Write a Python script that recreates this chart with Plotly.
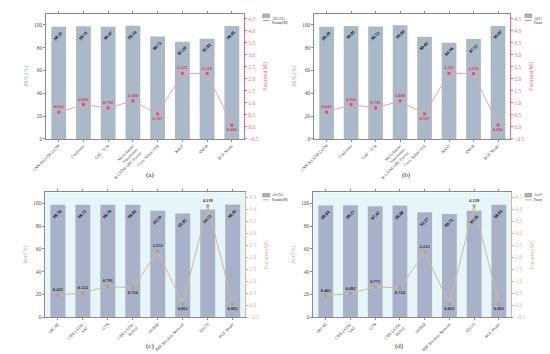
import plotly.graph_objects as go

# ---------------- data ----------------
cats_ab = ["CNN-BiLSTM-LSTM", "Conformer", "GAT - TCN",
           "Multichannel<br>Transformer<br>& LSTM-GRU Fusion",
           "Cross-Subject DA", "KAST", "SMGB", "RGF-Model"]
auc_a = [98.32, 98.71, 98.47, 99.24, 89.72, 85.26, 87.81, 99.05]
params_a = [0.612, 0.926, 0.792, 1.080, 0.537, 2.225, 2.219, 0.082]
auc_b = [98.28, 99.05, 98.52, 99.64, 89.62, 84.36, 87.52, 99.07]
params_b = [0.612, 0.926, 0.792, 1.080, 0.537, 2.225, 2.219, 0.082]

cats_cd = ["SRCAE", "CNN-LSTM-<br>SAT", "GTN", "CNN-LSTM-<br>Hybrid",
           "SDNSB", "RBF-Residual-Network", "EEGTI", "RGF-Model"]
acc_c = [98.76, 98.72, 98.79, 98.81, 93.59, 91.05, 94.52, 98.95]
params_c = [0.425, 0.522, 0.791, 0.724, 2.252, 0.062, 4.139, 0.062]
acc_d = [98.04, 98.27, 97.42, 98.06, 92.17, 90.71, 93.58, 98.83]
params_d = [0.405, 0.492, 0.771, 0.724, 2.212, 0.062, 4.139, 0.062]

pos_ab = ["top center"] * 4 + ["bottom center", "top center", "top center", "bottom center"]
pos_cd = ["top center", "top center", "top center", "bottom center",
          "top center", "bottom center", "top center", "bottom center"]

W, H = 550, 354
FONT = "Liberation Serif"

styleA = dict(bar="#a9b9c8", line="#f6a0ae", marker="#e8506a", ptext="#e0304e",
              raxis="#ee6a80", ltitle="#8ea2b4", bg=None)
styleC = dict(bar="#a9b1c9", line="#cbbd96", marker="#b8a070", ptext="#2a2a2a",
              raxis="#deb09a", ltitle="#a6adbf", bg="#e6f5f7")

panels = [
    dict(cats=cats_ab, bars=auc_a, params=params_a, bname="AUC(%)", st=styleA,
         dx=(25, 228), dy=(6, 132), lab="(a)", labxy=(125, 168), legxy=(247, 5), pos=pos_ab),
    dict(cats=cats_ab, bars=auc_b, params=params_b, bname="AUC(%)", st=styleA,
         dx=(300, 501), dy=(6, 132), lab="(b)", labxy=(401, 168), legxy=(516, 5), pos=pos_ab),
    dict(cats=cats_cd, bars=acc_c, params=params_c, bname="Acc(%)", st=styleC,
         dx=(24, 229), dy=(186, 312), lab="(c)", labxy=(125, 347), legxy=(247, 186), pos=pos_cd),
    dict(cats=cats_cd, bars=acc_d, params=params_d, bname="Acc(%)", st=styleC,
         dx=(299, 502), dy=(186, 312), lab="(d)", labxy=(394, 347), legxy=(516, 186), pos=pos_cd),
]

fig = go.Figure()
layout = {}
shapes = []
annotations = []

for i, p in enumerate(panels):
    k = i + 1
    st = p["st"]
    xa = "x" if k == 1 else f"x{k}"
    xkey = "xaxis" if k == 1 else f"xaxis{k}"
    yl, yr = 2 * k - 1, 2 * k
    ylname = "y" if yl == 1 else f"y{yl}"
    ylkey = "yaxis" if yl == 1 else f"yaxis{yl}"
    yrname = f"y{yr}"
    yrkey = f"yaxis{yr}"

    fig.add_trace(go.Bar(
        x=p["cats"], y=p["bars"], xaxis=xa, yaxis=ylname, name=p["bname"],
        marker=dict(color=st["bar"], line=dict(width=0)), width=0.6,
        showlegend=False))
    # rotated value labels inside the top of each bar
    for c, v in zip(p["cats"], p["bars"]):
        annotations.append(dict(text=f"<b>{v:.2f}</b>", x=c, y=v, xref=xa, yref=ylname,
                                yshift=-9, showarrow=False, textangle=-45,
                                font=dict(size=4.5, family=FONT, color="black")))
    fig.add_trace(go.Scatter(
        x=p["cats"], y=p["params"], xaxis=xa, yaxis=yrname, name="Params(M)",
        mode="lines+markers+text",
        line=dict(color=st["line"], width=1),
        marker=dict(color=st["marker"], size=3, symbol="square"),
        text=[f"{v:.3f}" for v in p["params"]], textposition=p["pos"],
        textfont=dict(size=4.5, color=st["ptext"], family=FONT, weight="bold"),
        showlegend=False, cliponaxis=False))

    x0, x1 = p["dx"][0] / W, p["dx"][1] / W
    y0, y1 = 1 - p["dy"][1] / H, 1 - p["dy"][0] / H
    layout[xkey] = dict(
        domain=[x0, x1], anchor=ylname, range=[-0.5, 7.5], type="category",
        showline=True, linecolor="#8a8a8a", linewidth=1, mirror="ticks",
        ticks="outside", ticklen=2, tickcolor="#8a8a8a", tickangle=-45,
        tickfont=dict(size=4, family=FONT, color="#333"), showgrid=False)
    layout[ylkey] = dict(
        domain=[y0, y1], anchor=xa, range=[0, 109.6],
        tickvals=[0, 20, 40, 60, 80, 100],
        showline=True, linecolor="#8a8a8a", linewidth=1,
        ticks="outside", ticklen=2, tickcolor="#8a8a8a",
        tickfont=dict(size=5.5, family=FONT, color="#555"), showgrid=False,
        zeroline=False,
        title=dict(text=p["bname"], font=dict(size=6, family=FONT, color=st["ltitle"]),
                   standoff=4))
    layout[yrkey] = dict(
        overlaying=ylname, side="right", anchor=xa, range=[-0.5, 4.7],
        tickvals=[-0.5, 0, 0.5, 1, 1.5, 2, 2.5, 3, 3.5, 4, 4.5],
        tickformat=".1f",
        showline=True, linecolor=st["raxis"], linewidth=1,
        ticks="outside", ticklen=2, tickcolor=st["raxis"],
        tickfont=dict(size=5.5, family=FONT, color=st["raxis"]), showgrid=False,
        zeroline=False,
        title=dict(text="Params(M)", font=dict(size=6.5, family=FONT, color=st["raxis"]),
                   standoff=4))

    if st["bg"]:
        shapes.append(dict(type="rect", xref=f"{xa} domain", yref=f"{ylname} domain",
                           x0=0, x1=1, y0=0, y1=1, fillcolor=st["bg"],
                           line=dict(width=0), layer="below"))

    annotations.append(dict(text=p["lab"], x=p["labxy"][0] / W, y=1 - p["labxy"][1] / H,
                            xref="paper", yref="paper", showarrow=False,
                            font=dict(size=7, family=FONT, color="#222")))

    # compact legend
    lx, ly = p["legxy"]
    shapes.append(dict(type="rect", xref="paper", yref="paper",
                       x0=lx / W, x1=(lx + 7) / W, y0=1 - (ly + 4.5) / H, y1=1 - (ly + 1) / H,
                       fillcolor=st["bar"], line=dict(width=0.5, color="#777")))
    shapes.append(dict(type="line", xref="paper", yref="paper",
                       x0=lx / W, x1=(lx + 7) / W, y0=1 - (ly + 7.5) / H, y1=1 - (ly + 7.5) / H,
                       line=dict(width=0.8, color=st["marker"])))
    annotations.append(dict(text=p["bname"], x=(lx + 8) / W, y=1 - (ly + 2.75) / H,
                            xref="paper", yref="paper", showarrow=False, xanchor="left",
                            borderpad=0,
                            font=dict(size=3.5, family=FONT, color="#333")))
    annotations.append(dict(text="Params(M)", x=(lx + 8) / W, y=1 - (ly + 7.5) / H,
                            xref="paper", yref="paper", showarrow=False, xanchor="left",
                            borderpad=0,
                            font=dict(size=3.5, family=FONT, color="#333")))

fig.update_layout(width=W, height=H, margin=dict(l=0, r=0, t=0, b=0),
                  paper_bgcolor="white", plot_bgcolor="rgba(0,0,0,0)",
                  bargap=0.4, showlegend=False, shapes=shapes, annotations=annotations,
                  font=dict(family=FONT), **layout)

fig.write_html("out.html")
